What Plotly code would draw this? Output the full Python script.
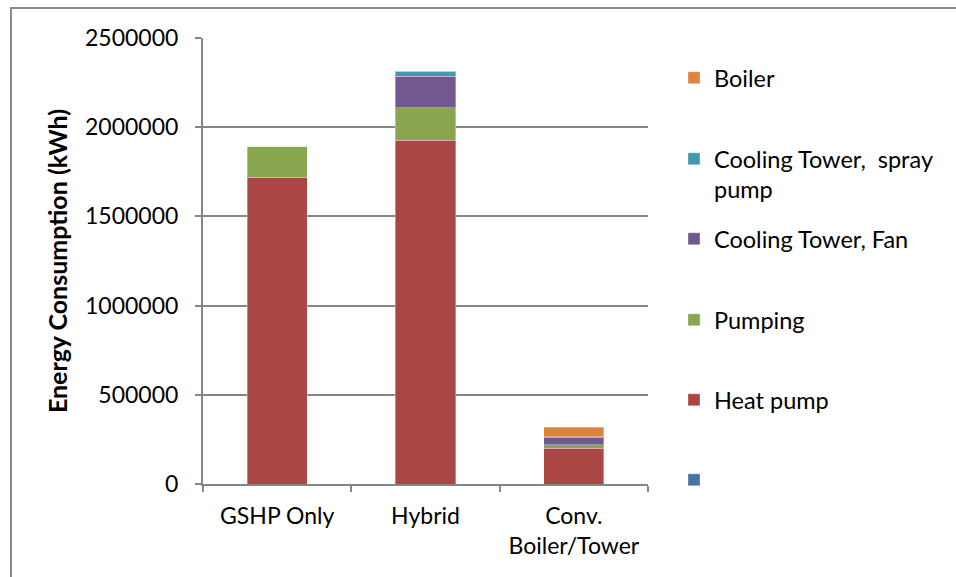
import plotly.graph_objects as go

# Annual energy use by system configuration (kWh)
systems = ["GSHP Only", "Hybrid", "Conv.<br>Boiler/Tower"]

unnamed = [0, 0, 0]
heat_pump = [1720000, 1928000, 200000]
pumping = [172000, 180000, 20000]
tower_fan = [0, 179000, 40000]
tower_spray = [0, 28000, 5000]
boiler = [0, 0, 52000]

series = [
    (" ", unnamed, "#4572A7"),
    ("Heat pump", heat_pump, "#AA4643"),
    ("Pumping", pumping, "#89A54E"),
    ("Cooling Tower, Fan", tower_fan, "#71588F"),
    ("Cooling Tower,  spray<br>pump", tower_spray, "#4198AF"),
    ("Boiler", boiler, "#DB843D"),
]
# vertical pixel position of each legend swatch, same order as series
legend_rows = [479, 399, 319, 238, 158, 77]

W, H = 956, 577
L, R, T, B = 203, 308, 38, 93
FONT = "Lato"
TICK_SIZE = 23
LEG_SIZE = 23.5

fig = go.Figure()
layout_legends = {}
for i, ((name, vals, color), row) in enumerate(zip(series, legend_rows)):
    key = "legend" if i == 0 else f"legend{i + 1}"
    fig.add_trace(go.Bar(
        x=systems, y=vals, name=name, legend=key,
        marker=dict(color=color, line=dict(color="rgba(255,255,255,0.35)", width=1)),
    ))
    layout_legends[key] = dict(
        xref="container", yref="container",
        x=674 / W, y=1 - (row - 21) / H, xanchor="left", yanchor="top",
        valign="top", bgcolor="rgba(0,0,0,0)", borderwidth=0,
        font=dict(family=FONT, size=LEG_SIZE, color="#000000"),
    )

fig.update_layout(
    width=W, height=H,
    margin=dict(l=L, r=R, t=T, b=B),
    barmode="stack", bargap=0.595,
    paper_bgcolor="white", plot_bgcolor="white",
    font=dict(family=FONT, size=TICK_SIZE, color="#000000"),
    showlegend=True,
    xaxis=dict(
        type="category", showline=True, linecolor="#868686", linewidth=2,
        ticks="outside", tickson="boundaries", ticklen=6, tickcolor="#868686",
        tickwidth=2, showgrid=False, ticklabelstandoff=10,
        tickfont=dict(family=FONT, size=TICK_SIZE),
    ),
    yaxis=dict(
        range=[0, 2500000], dtick=500000, tickformat="d",
        showline=True, linecolor="#868686", linewidth=2,
        ticks="outside", ticklen=6, tickcolor="#868686", tickwidth=2,
        showgrid=True, gridcolor="#868686", gridwidth=1.5,
        zeroline=False, ticklabelstandoff=12,
        tickfont=dict(family=FONT, size=TICK_SIZE),
        title=dict(text="<b>Energy Consumption (kWh)</b>",
                   font=dict(family=FONT, size=25), standoff=10),
    ),
    **layout_legends,
)

# Chart-area frame (only its top and left edges fall inside the page)
pw, ph = W - L - R, H - T - B
fig.add_shape(
    type="rect", xref="paper", yref="paper", layer="above",
    x0=(11 - L) / pw, x1=(W + 20 - L) / pw,
    y0=(H - B - (H + 20)) / ph, y1=(H - B - 8) / ph,
    line=dict(color="#8a8a8a", width=2), fillcolor="rgba(0,0,0,0)",
)

fig.write_html("out.html")
